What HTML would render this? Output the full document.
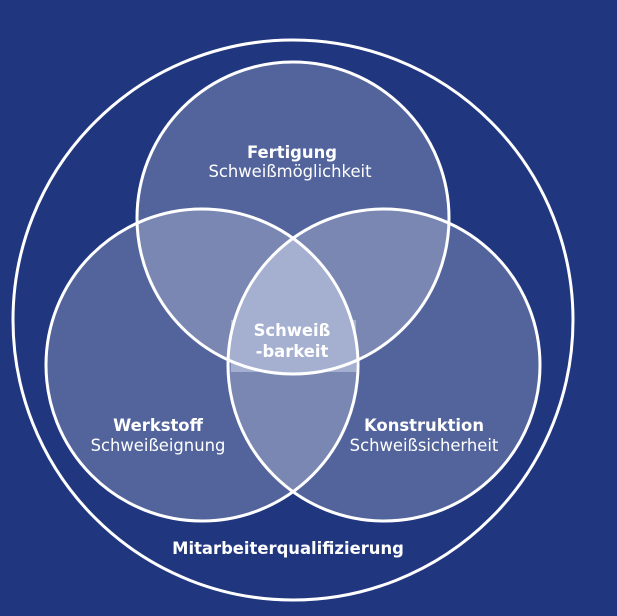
<!DOCTYPE html>
<html><head><style>
html,body{margin:0;padding:0;background:#20367f;}
svg{display:block}
text{font-family:"DejaVu Sans",Verdana,sans-serif;fill:#fff;text-anchor:middle}
</style></head><body>
<svg width="617" height="616" viewBox="0 0 617 616">
<defs>
<clipPath id="cT"><circle cx="293" cy="218" r="156"/></clipPath>
<clipPath id="cL"><circle cx="202" cy="365" r="156"/></clipPath>
</defs>
<rect width="617" height="616" fill="#20367f"/>
<g fill="#fff" fill-opacity="0.23">
<circle cx="293" cy="218" r="156"/>
<circle cx="202" cy="365" r="156"/>
<circle cx="384" cy="365" r="156"/>
</g>
<g clip-path="url(#cT)"><g clip-path="url(#cL)"><circle cx="384" cy="365" r="156" fill="#a5afd0"/></g></g>
<rect x="231" y="320" width="125" height="52" fill="#a5afd0"/>
<g fill="none" stroke="#fff" stroke-width="3">
<circle cx="293" cy="320" r="280"/>
<circle cx="293" cy="218" r="156"/>
<circle cx="202" cy="365" r="156"/>
<circle cx="384" cy="365" r="156"/>
</g>
<g font-size="16.4">
<text x="292" y="158" font-weight="bold">Fertigung</text>
<text x="290" y="177">Schweißmöglichkeit</text>
<text x="292" y="336" font-weight="bold">Schweiß</text>
<text x="292" y="357" font-weight="bold">-barkeit</text>
<text x="158" y="431" font-weight="bold">Werkstoff</text>
<text x="158" y="451">Schweißeignung</text>
<text x="424" y="431" font-weight="bold">Konstruktion</text>
<text x="424" y="451">Schweißsicherheit</text>
<text x="288" y="554" font-weight="bold">Mitarbeiterqualifizierung</text>
</g>
</svg>
</body></html>
